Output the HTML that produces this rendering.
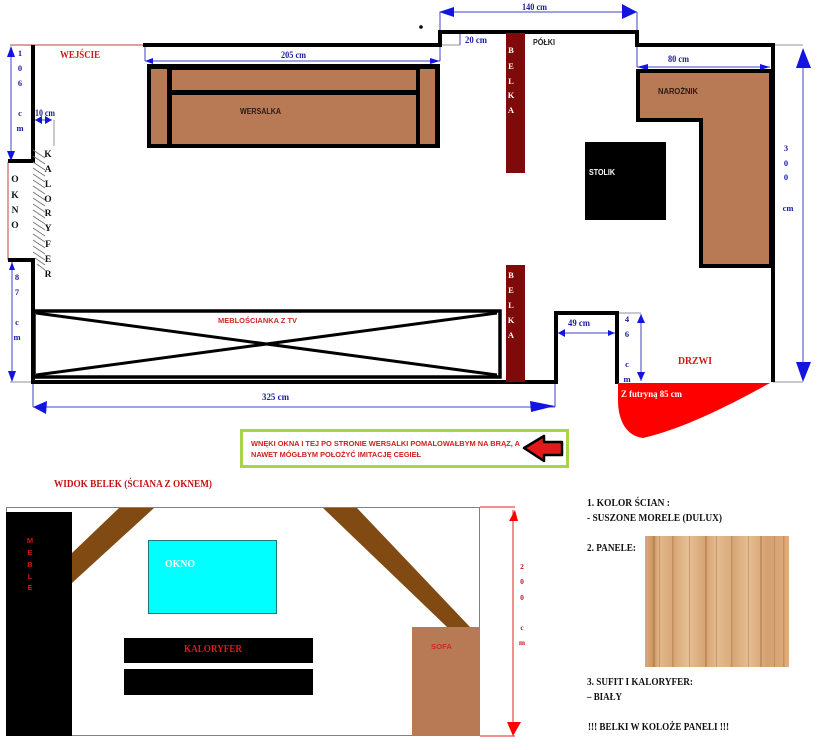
<!DOCTYPE html>
<html><head><meta charset="utf-8"><style>
html,body{margin:0;padding:0;background:#fff;}
svg{display:block;}
.s{font-family:"Liberation Serif",serif;font-weight:bold;}
.n{font-family:"Liberation Sans",sans-serif;font-weight:bold;}
</style></head><body>
<svg width="826" height="750" viewBox="0 0 826 750" xmlns="http://www.w3.org/2000/svg">
<rect width="826" height="750" fill="#fff"/>

<!-- ===== dimension lines (top) ===== -->
<g stroke="#4040c8" stroke-width="1" fill="none">
  <line x1="11" y1="47" x2="11" y2="160"/>
  <line x1="12" y1="262" x2="12" y2="381"/>
  <line x1="440" y1="12" x2="637" y2="12"/>
  <line x1="440" y1="12" x2="440" y2="32"/>
  <line x1="637" y1="12" x2="637" y2="32"/>
  <line x1="145" y1="61" x2="440" y2="61"/>
  <line x1="145" y1="46" x2="145" y2="61"/>
  <line x1="440" y1="46" x2="440" y2="61"/>
  <line x1="637" y1="67" x2="770" y2="67"/>
  <line x1="637" y1="46" x2="637" y2="67"/>
  <line x1="803" y1="50" x2="803" y2="380"/>
  <line x1="33" y1="407" x2="555" y2="407"/>
  <line x1="33" y1="383" x2="33" y2="407"/>
  <line x1="555" y1="383" x2="555" y2="407"/>
  <line x1="558" y1="333" x2="615" y2="333"/>
  <line x1="641" y1="314" x2="641" y2="381"/>
  <line x1="35" y1="120" x2="52" y2="120"/>
  <line x1="460" y1="33" x2="460" y2="45"/>
</g>
<g stroke="#9090a0" stroke-width="1" fill="none">
  <line x1="773" y1="45" x2="803" y2="45"/>
  <line x1="773" y1="382" x2="803" y2="382"/>
  <line x1="54" y1="120" x2="54" y2="146"/>
  <line x1="440" y1="45" x2="460" y2="45"/>
  <line x1="10" y1="382" x2="33" y2="382"/>
  <line x1="617" y1="313" x2="641" y2="313"/>
</g>
<g fill="#1414e0">
  <polygon points="11,46 7,57 15,57"/>
  <polygon points="11,161 7,151 15,151"/>
  <polygon points="12,262 9,270 15,270"/>
  <polygon points="12,382 8,371 16,371"/>
  <polygon points="439,12 454,7 454,17"/>
  <polygon points="637,12 622,4 622,19"/>
  <polygon points="145,61 153,58 153,64"/>
  <polygon points="440,61 430,58 430,64"/>
  <polygon points="637,67 648,64 648,70"/>
  <polygon points="770,67 760,64 760,70"/>
  <polygon points="803,48 796,68 811,68"/>
  <polygon points="803,382 796,362 811,362"/>
  <polygon points="33,407 47,401 46,414"/>
  <polygon points="555,406 530,401 531,412"/>
  <polygon points="558,333 565,329 565,337"/>
  <polygon points="615,333 608,330 608,336"/>
  <polygon points="641,314 637,323 645,323"/>
  <polygon points="641,381 637,372 645,372"/>
  <polygon points="35,120 42,116 42,124"/>
  <polygon points="52,120 45,116 45,124"/>
</g>
<g class="s" fill="#1c1ca0" font-size="8.5" text-anchor="middle">
  <text x="20" y="56">1</text><text x="20" y="71">0</text><text x="20" y="86">6</text>
  <text x="20" y="116">c</text><text x="20" y="131">m</text>
  <text x="17" y="280">8</text><text x="17" y="295">7</text>
  <text x="17" y="325">c</text><text x="17" y="340">m</text>
  <text x="786" y="151">3</text><text x="786" y="166">0</text><text x="786" y="180">0</text>
  <text x="788" y="211">cm</text>
  <text x="627" y="322">4</text><text x="627" y="337">6</text>
  <text x="627" y="367">c</text><text x="627" y="382">m</text>
</g>
<g class="s" fill="#1c1ca0" font-size="9">
  <text x="522" y="10" textLength="25" lengthAdjust="spacingAndGlyphs">140 cm</text>
  <text x="465" y="43" textLength="22" lengthAdjust="spacingAndGlyphs">20 cm</text>
  <text x="281" y="58" textLength="25" lengthAdjust="spacingAndGlyphs">205 cm</text>
  <text x="668" y="62" textLength="21" lengthAdjust="spacingAndGlyphs">80 cm</text>
  <text x="35" y="116" textLength="20" lengthAdjust="spacingAndGlyphs">10 cm</text>
  <text x="262" y="400" textLength="27" lengthAdjust="spacingAndGlyphs">325 cm</text>
  <text x="568" y="326" textLength="22" lengthAdjust="spacingAndGlyphs">49 cm</text>
</g>

<!-- ===== walls ===== -->
<line x1="10" y1="45" x2="143" y2="45" stroke="#c04040" stroke-width="1"/>
<line x1="8" y1="162" x2="8" y2="260" stroke="#c04040" stroke-width="1"/>
<g stroke="#000" stroke-width="4" fill="none" stroke-linejoin="miter">
  <polyline points="33,45 33,161 8,161"/>
  <polyline points="8,260 33,260 33,382 556,382 556,313 617,313 617,384"/>
  <polyline points="143,45 440,45 440,32 637,32 637,45 773,45 773,382"/>
</g>
<circle cx="421" cy="27" r="1.8" fill="#000"/>

<!-- kaloryfer hatching -->
<g stroke="#707070" stroke-width="0.8">
  <line x1="33" y1="150" x2="45" y2="158"/><line x1="33" y1="156" x2="45" y2="164"/>
  <line x1="33" y1="162" x2="45" y2="170"/><line x1="33" y1="168" x2="45" y2="176"/>
  <line x1="33" y1="174" x2="45" y2="182"/><line x1="33" y1="180" x2="45" y2="188"/>
  <line x1="33" y1="186" x2="45" y2="194"/><line x1="33" y1="192" x2="45" y2="200"/>
  <line x1="33" y1="198" x2="45" y2="206"/><line x1="33" y1="204" x2="45" y2="212"/>
  <line x1="33" y1="210" x2="45" y2="218"/><line x1="33" y1="216" x2="45" y2="224"/>
  <line x1="33" y1="222" x2="45" y2="230"/><line x1="33" y1="228" x2="45" y2="236"/>
  <line x1="33" y1="234" x2="45" y2="242"/><line x1="33" y1="240" x2="45" y2="248"/>
  <line x1="33" y1="246" x2="45" y2="254"/><line x1="33" y1="252" x2="45" y2="260"/>
  <line x1="35" y1="258" x2="45" y2="265"/><line x1="37" y1="264" x2="45" y2="270"/>
</g>
<g class="s" fill="#111" font-size="9.5" text-anchor="middle">
  <text x="48" y="157">K</text><text x="48" y="172">A</text><text x="48" y="187">L</text>
  <text x="48" y="202">O</text><text x="48" y="216">R</text><text x="48" y="231">Y</text>
  <text x="48" y="247">F</text><text x="48" y="262">E</text><text x="48" y="277">R</text>
  <text x="15" y="182">O</text><text x="15" y="198">K</text><text x="15" y="213">N</text><text x="15" y="228">O</text>
</g>
<text class="s" x="60" y="58" font-size="10" fill="#d01818" textLength="40" lengthAdjust="spacingAndGlyphs">WEJŚCIE</text>

<!-- ===== wersalka ===== -->
<rect x="147" y="64" width="293" height="84" fill="#000"/>
<g fill="#b87a55">
  <rect x="151" y="69" width="16" height="75"/>
  <rect x="172" y="70" width="244" height="20"/>
  <rect x="172" y="95" width="244" height="49"/>
  <rect x="420" y="69" width="15" height="75"/>
</g>
<text class="n" x="240" y="114" font-size="8" fill="#2a1a10" textLength="41" lengthAdjust="spacingAndGlyphs">WERSALKA</text>

<!-- belki -->
<rect x="506" y="33" width="19" height="140" fill="#7f0a0a"/>
<rect x="506" y="265" width="19" height="117" fill="#7f0a0a"/>
<g class="s" fill="#fff" font-size="8.5" text-anchor="middle">
  <text x="511" y="53">B</text><text x="511" y="69">E</text><text x="511" y="84">L</text>
  <text x="511" y="98">K</text><text x="511" y="113">A</text>
  <text x="511" y="278">B</text><text x="511" y="293">E</text><text x="511" y="308">L</text>
  <text x="511" y="323">K</text><text x="511" y="338">A</text>
</g>
<text class="n" x="533" y="45" font-size="8" fill="#222" textLength="22" lengthAdjust="spacingAndGlyphs">PÓŁKI</text>

<!-- narożnik -->
<polygon points="638,71 771,71 771,266 701,266 701,120 638,120" fill="#b87a55" stroke="#000" stroke-width="4"/>
<text class="n" x="658" y="94" font-size="8" fill="#2a1a10" textLength="40" lengthAdjust="spacingAndGlyphs">NAROŻNIK</text>

<!-- stolik -->
<rect x="585" y="142" width="81" height="78" fill="#000"/>
<text class="n" x="589" y="175" font-size="8" fill="#fff" textLength="26" lengthAdjust="spacingAndGlyphs">STOLIK</text>

<!-- meblościanka -->
<rect x="34" y="311" width="466" height="66" fill="none" stroke="#000" stroke-width="3.5"/>
<g stroke="#000" stroke-width="3">
  <line x1="36" y1="313" x2="497" y2="375"/>
  <line x1="36" y1="375" x2="497" y2="313"/>
</g>
<text class="n" x="218" y="323" font-size="7.5" fill="#d02828" textLength="79" lengthAdjust="spacingAndGlyphs">MEBLOŚCIANKA Z TV</text>

<!-- door -->
<path d="M618,383 L770,383 C730,405 685,428 643,438 C626,436 618,420 618,400 Z" fill="#ff0000"/>
<text class="s" x="621" y="397" font-size="9" fill="#fff" textLength="61" lengthAdjust="spacingAndGlyphs">Z futryną 85 cm</text>
<text class="s" x="678" y="364" font-size="11" fill="#d01818" textLength="34" lengthAdjust="spacingAndGlyphs">DRZWI</text>

<!-- note box -->
<rect x="241.5" y="430.5" width="326" height="36" fill="#fff" stroke="#a8d448" stroke-width="3"/>
<text class="n" x="251" y="446" font-size="7.5" fill="#d02020" textLength="269" lengthAdjust="spacingAndGlyphs">WNĘKI OKNA I TEJ PO STRONIE WERSALKI POMALOWAŁBYM NA BRĄZ, A</text>
<text class="n" x="251" y="457" font-size="7.5" fill="#d02020" textLength="170" lengthAdjust="spacingAndGlyphs">NAWET MÓGŁBYM POŁOŻYĆ IMITACJĘ CEGIEŁ</text>
<polygon points="524,448 544,436 544,442 562,442 562,455 544,455 544,461" fill="#e21a1a" stroke="#000" stroke-width="2.5" stroke-linejoin="round"/>

<!-- ===== bottom: wall view ===== -->
<text class="s" x="54" y="487" font-size="10" fill="#c81010" textLength="158" lengthAdjust="spacingAndGlyphs">WIDOK BELEK (ŚCIANA Z OKNEM)</text>
<rect x="6.5" y="507.5" width="473" height="228" fill="#fff" stroke="#808080" stroke-width="1"/>
<rect x="6" y="512" width="66" height="224" fill="#000"/>
<g class="n" fill="#c81818" font-size="7.5" text-anchor="middle">
  <text x="30" y="543">M</text><text x="30" y="555">E</text><text x="30" y="567">B</text>
  <text x="30" y="579">L</text><text x="30" y="590">E</text>
</g>
<polygon points="119,508 154,508 72,583 72,553" fill="#804a12"/>
<polygon points="323,508 357,508 470,627 447,627" fill="#804a12"/>
<rect x="148.5" y="540.5" width="128" height="73" fill="#00ffff" stroke="#207878" stroke-width="1"/>
<text class="s" x="165" y="567" font-size="10" fill="#fff" textLength="30" lengthAdjust="spacingAndGlyphs">OKNO</text>
<rect x="124" y="638" width="189" height="25" fill="#000"/>
<rect x="124" y="669" width="189" height="26" fill="#000"/>
<text class="s" x="184" y="652" font-size="11" fill="#e01818" textLength="58" lengthAdjust="spacingAndGlyphs">KALORYFER</text>
<rect x="412" y="627" width="68" height="109" fill="#b87a55"/>
<text class="n" x="431" y="649" font-size="7.5" fill="#d02828" textLength="21" lengthAdjust="spacingAndGlyphs">SOFA</text>

<g stroke="#e02020" stroke-width="1">
  <line x1="480" y1="507" x2="515" y2="507"/>
  <line x1="480" y1="736" x2="515" y2="736"/>
  <line x1="513" y1="510" x2="513" y2="733"/>
</g>
<polygon points="515,510 509,521 518,521" fill="#ff0000"/>
<polygon points="513,736 507,722 521,722" fill="#ff0000"/>
<g class="s" fill="#c01818" font-size="7.5" text-anchor="middle">
  <text x="522" y="569">2</text><text x="522" y="584">0</text><text x="522" y="600">0</text>
  <text x="522" y="630">c</text><text x="522" y="645">m</text>
</g>

<!-- ===== right legend ===== -->
<g class="s" fill="#111" font-size="10">
  <text x="587" y="506" textLength="83" lengthAdjust="spacingAndGlyphs">1. KOLOR ŚCIAN :</text>
  <text x="587" y="521" textLength="135" lengthAdjust="spacingAndGlyphs">- SUSZONE MORELE (DULUX)</text>
  <text x="587" y="551" textLength="49" lengthAdjust="spacingAndGlyphs">2. PANELE:</text>
  <text x="587" y="685" textLength="106" lengthAdjust="spacingAndGlyphs">3. SUFIT I KALORYFER:</text>
  <text x="587" y="700" textLength="35" lengthAdjust="spacingAndGlyphs">– BIAŁY</text>
  <text x="588" y="730" textLength="141" lengthAdjust="spacingAndGlyphs">!!!  BELKI W KOLOŻE PANELI  !!!</text>
</g>
<!-- wood panel -->
<defs>
  <linearGradient id="wood" x1="0" y1="0" x2="1" y2="0">
    <stop offset="0" stop-color="#d9aa7a"/>
    <stop offset="0.06" stop-color="#c99460"/>
    <stop offset="0.1" stop-color="#e2b88c"/>
    <stop offset="0.2" stop-color="#d7a676"/>
    <stop offset="0.3" stop-color="#e6c094"/>
    <stop offset="0.42" stop-color="#d6a373"/>
    <stop offset="0.5" stop-color="#e4bc90"/>
    <stop offset="0.62" stop-color="#d8a878"/>
    <stop offset="0.72" stop-color="#e5be92"/>
    <stop offset="0.85" stop-color="#d4a070"/>
    <stop offset="1" stop-color="#dcae80"/>
  </linearGradient>
</defs>
<rect x="645" y="536" width="144" height="131" fill="url(#wood)"/>
<g fill="#a8713f" opacity="0.45">
  <rect x="653" y="536" width="2" height="131"/>
  <rect x="659" y="536" width="1" height="131"/>
  <rect x="672" y="536" width="1.5" height="131"/>
  <rect x="689" y="536" width="1" height="131"/>
  <rect x="705" y="536" width="2" height="131"/>
  <rect x="716" y="536" width="1" height="131"/>
  <rect x="731" y="536" width="1.5" height="131"/>
  <rect x="748" y="536" width="1" height="131"/>
  <rect x="760" y="536" width="2" height="131"/>
  <rect x="774" y="536" width="1" height="131"/>
  <rect x="783" y="536" width="1.5" height="131"/>
</g>
</svg>
</body></html>
